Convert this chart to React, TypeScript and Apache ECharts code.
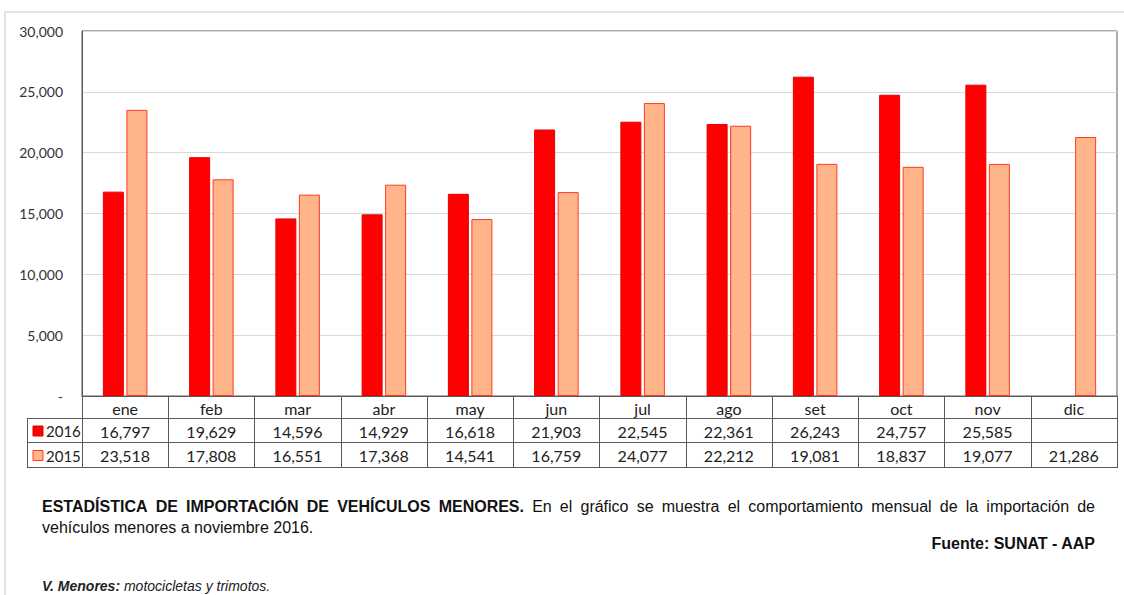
import React, { useEffect, useRef } from "react";
import * as echarts from "echarts";

const months = ["ene", "feb", "mar", "abr", "may", "jun", "jul", "ago", "set", "oct", "nov", "dic"];
const seriesNames = ["2016", "2015"];
const imports2016: (number | null)[] = [16797, 19629, 14596, 14929, 16618, 21903, 22545, 22361, 26243, 24757, 25585, null];
const imports2015: (number | null)[] = [23518, 17808, 16551, 17368, 14541, 16759, 24077, 22212, 19081, 18837, 19077, 21286];
const yMax = 30000;
const yStep = 5000;

const titleBold = "ESTADÍSTICA DE IMPORTACIÓN DE VEHÍCULOS MENORES.";
const titleRest = "En el gráfico se muestra el comportamiento mensual de la importación de";
const titleLine2 = "vehículos menores a noviembre 2016.";
const sourceText = "Fuente: SUNAT - AAP";
const noteBold = "V. Menores:";
const noteRest = " motocicletas y trimotos.";

const RED = "#ff0000";
const SALMON = "#ffb48a";
const SALMON_BORDER = "#ff3a22";
const LINE = "#5a5a5a";

const GL = 82;
const GT = 31;
const GW = 1035;
const GH = 365;
const ROW1 = 418;
const ROW2 = 442;
const ROW3 = 467;
const TABLE_LEFT = 27;

const fmt = (v: number | null) => (v == null ? "" : v.toLocaleString("en-US"));

function measure(text: string, font: string): number {
  const c = document.createElement("canvas");
  const ctx = c.getContext("2d")!;
  ctx.font = font;
  return ctx.measureText(text).width;
}

export default function App() {
  const ref = useRef<HTMLDivElement>(null);
  useEffect(() => {
    if (!ref.current) return;
    const chart = echarts.init(ref.current, null, { renderer: "svg" });
    const cellW = GW / months.length;
    const graphics: any[] = [];

    // outer frame
    graphics.push({
      type: "rect",
      shape: { x: 5, y: 12, width: 1130, height: 600 },
      style: { fill: "none", stroke: "#e2e2e2", lineWidth: 2 },
      silent: true,
    });

    // table horizontal lines
    [ROW1, ROW2, ROW3].forEach((y) => {
      graphics.push({
        type: "line",
        shape: { x1: TABLE_LEFT, y1: y + 0.5, x2: GL + GW, y2: y + 0.5 },
        style: { stroke: LINE, lineWidth: 1 },
      });
    });
    graphics.push({
      type: "line",
      shape: { x1: TABLE_LEFT + 0.5, y1: ROW1, x2: TABLE_LEFT + 0.5, y2: ROW3 + 1 },
      style: { stroke: LINE, lineWidth: 1 },
    });

    // legend keys
    const rowsY = [(ROW1 + ROW2) / 2 + 1, (ROW2 + ROW3) / 2 + 1];
    const rowData = [imports2016, imports2015];
    const keyFill = [RED, SALMON];
    const keyStroke = ["#dd0000", SALMON_BORDER];
    rowsY.forEach((cy, i) => {
      graphics.push({
        type: "rect",
        shape: { x: 33, y: cy - 5, width: 10, height: 10 },
        style: { fill: keyFill[i], stroke: keyStroke[i], lineWidth: 1 },
      });
      graphics.push({
        type: "text",
        x: 46,
        y: cy,
        style: { text: seriesNames[i], font: '15px "Lato"', fill: "#222", verticalAlign: "middle", align: "left" },
      });
      rowData[i].forEach((v, j) => {
        graphics.push({
          type: "text",
          x: GL + cellW * (j + 0.5),
          y: cy,
          style: { text: fmt(v), font: '16px "Lato"', fill: "#222", align: "center", verticalAlign: "middle" },
        });
      });
    });

    // justified paragraph line 1
    const boldFont = 'bold 16px "Liberation Sans"';
    const normFont = '16px "Liberation Sans"';
    const words: { t: string; b: boolean }[] = [
      ...titleBold.split(" ").map((t) => ({ t, b: true })),
      ...titleRest.split(" ").map((t) => ({ t, b: false })),
    ];
    const widths = words.map((w) => measure(w.t, w.b ? boldFont : normFont));
    const startX = 42;
    const endX = 1095;
    const total = widths.reduce((a, b) => a + b, 0);
    const gap = (endX - startX - total) / (words.length - 1);
    let cx = startX;
    words.forEach((w, i) => {
      graphics.push({
        type: "text",
        x: cx,
        y: 506,
        style: { text: w.t, font: w.b ? boldFont : normFont, fill: "#111", verticalAlign: "middle", align: "left" },
      });
      cx += widths[i] + gap;
    });
    graphics.push({
      type: "text",
      x: 42,
      y: 527,
      style: { text: titleLine2, font: normFont, fill: "#111", verticalAlign: "middle", align: "left" },
    });
    graphics.push({
      type: "text",
      x: 1095,
      y: 543,
      style: { text: sourceText, font: 'bold 16px "Liberation Sans"', fill: "#111", verticalAlign: "middle", align: "right" },
    });
    const nbFont = 'italic bold 14px "Liberation Sans"';
    const nbW = measure(noteBold, nbFont);
    graphics.push({
      type: "text",
      x: 42,
      y: 586,
      style: { text: noteBold, font: nbFont, fill: "#222", verticalAlign: "middle", align: "left" },
    });
    graphics.push({
      type: "text",
      x: 42 + nbW,
      y: 586,
      style: { text: noteRest, font: 'italic 14px "Liberation Sans"', fill: "#222", verticalAlign: "middle", align: "left" },
    });

    chart.setOption({
      animation: false,
      backgroundColor: "#fff",
      grid: {
        left: GL,
        top: GT,
        width: GW,
        height: GH,
        show: true,
        borderColor: LINE,
        borderWidth: 1,
        containLabel: false,
      },
      xAxis: {
        type: "category",
        data: months,
        axisLine: { show: true, lineStyle: { color: LINE, width: 1 } },
        axisTick: { show: true, length: ROW3 - (GT + GH) + 1, inside: false, alignWithLabel: false, lineStyle: { color: LINE, width: 1 } },
        axisLabel: { fontFamily: "Lato", fontSize: 16, color: "#222", margin: 4, interval: 0 },
        splitLine: { show: false },
      },
      yAxis: {
        type: "value",
        min: 0,
        max: yMax,
        interval: yStep,
        axisLine: { show: true, lineStyle: { color: LINE, width: 1 } },
        axisTick: { show: false },
        splitLine: { show: true, lineStyle: { color: "#d9d9d9", width: 1 } },
        axisLabel: {
          fontFamily: "Lato",
          fontSize: 14,
          color: "#333",
          margin: 19,
          formatter: (v: number) => (v === 0 ? "-" : v.toLocaleString("en-US")),
        },
      },
      series: [
        {
          name: seriesNames[0],
          type: "bar",
          data: imports2016,
          barWidth: 21,
          barGap: "12%",
          itemStyle: { color: RED, borderColor: "#e60000", borderWidth: 1 },
        },
        {
          name: seriesNames[1],
          type: "bar",
          data: imports2015,
          barWidth: 21,
          barGap: "12%",
          itemStyle: { color: SALMON, borderColor: SALMON_BORDER, borderWidth: 1 },
        },
      ],
      graphic: graphics,
    });
    return () => chart.dispose();
  }, []);
  return <div ref={ref} style={{ position: "absolute", left: 0, top: 0, width: 1124, height: 595, background: "#fff" }} />;
}
